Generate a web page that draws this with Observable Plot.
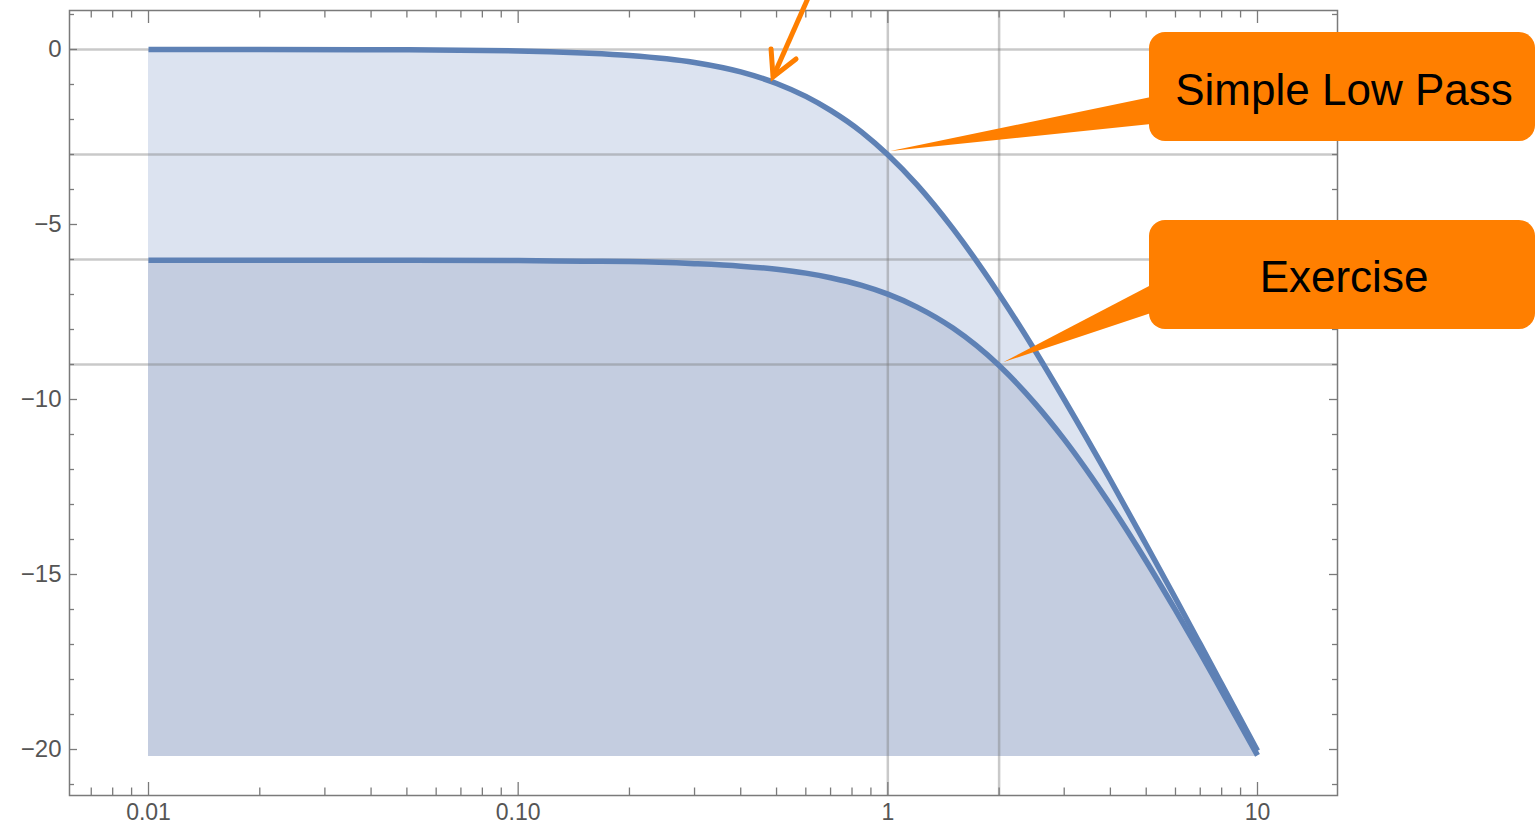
<!DOCTYPE html>
<html><head><meta charset="utf-8">
<script src="https://cdn.jsdelivr.net/npm/d3@7"></script>
<script src="https://cdn.jsdelivr.net/npm/@observablehq/plot@0.6"></script>
<style>body{margin:0;background:#fff;} svg{display:block}</style>
</head><body><div id="chart"></div>
<script>
// Frequency points (log axis) and magnitudes in dB
const freq = [0.01, 0.02, 0.05, 0.1, 0.15, 0.2, 0.3, 0.4, 0.5, 0.6, 0.7, 0.85, 1, 1.2, 1.5, 2, 2.5, 3, 4, 5, 6, 7, 8, 10];
const simpleLowPass = [0.00, 0.00, -0.01, -0.04, -0.10, -0.17, -0.37, -0.64, -0.97, -1.34, -1.74, -2.36, -3.01, -3.87, -5.12, -6.99, -8.60, -10.00, -12.30, -14.15, -15.68, -16.99, -18.13, -20.04];
const exercise = [-6.02, -6.02, -6.02, -6.03, -6.05, -6.06, -6.12, -6.19, -6.28, -6.39, -6.52, -6.74, -6.99, -7.36, -7.96, -9.03, -10.11, -11.14, -13.01, -14.62, -16.02, -17.24, -18.33, -20.17];
const fillBottom = -20.2;
const xTickValues = [0.01, 0.1, 1, 10];
const xTickLabels = ["0.01", "0.10", "1", "10"];
const yTickValues = [0, -5, -10, -15, -20];
const hGrid = [0, -3, -6, -9];
const vGrid = [1, 2];
const labelSimple = "Simple Low Pass";
const labelExercise = "Exercise";

const rows = freq.map((f, i) => ({f, slp: simpleLowPass[i], ex: exercise[i]}));

const W = 1535, H = 826, mL = 69, mR = 198, mT = 10, mB = 31;
const innerW = W - mL - mR, innerH = H - mT - mB;
const xDomain = [0.006113, 16.46];
const yDomain = [-21.314, 1.114];

// tick positions for the frame
const xMinor = [], xMajor = [];
for (let e = -3; e <= 1; e++) {
  for (let m = 1; m <= 9; m++) {
    const v = +(m * Math.pow(10, e)).toPrecision(6);
    if (v >= xDomain[0] && v <= xDomain[1]) (m === 1 ? xMajor : xMinor).push(v);
  }
}
const yMinor = [], yMajor = [];
for (let v = -21; v <= 1; v++) (v % 5 === 0 ? yMajor : yMinor).push(v);

const blue = "#5E81B5", frameCol = "#7a7a7a", tickFont = "Liberation Sans, Arial, sans-serif";

const chart = Plot.plot({
  width: W, height: H,
  marginLeft: mL, marginRight: mR, marginTop: mT, marginBottom: mB,
  style: {background: "#fff", fontFamily: tickFont, overflow: "visible"},
  x: {type: "log", domain: xDomain},
  y: {domain: yDomain},
  marks: [
    Plot.areaY(rows, {x: "f", y1: () => fillBottom, y2: "slp", fill: "#dce3f0", curve: "monotone-x"}),
    Plot.areaY(rows, {x: "f", y1: () => fillBottom, y2: "ex", fill: "#c4cde0", curve: "monotone-x"}),
    Plot.ruleY(hGrid, {y: d => d, stroke: "#777", strokeOpacity: 0.4, strokeWidth: 2.5}),
    Plot.ruleX(vGrid, {x: d => d, stroke: "#777", strokeOpacity: 0.4, strokeWidth: 2.5}),
    Plot.line(rows, {x: "f", y: "slp", stroke: blue, strokeWidth: 5.5, curve: "monotone-x", strokeLinecap: "butt"}),
    Plot.line(rows, {x: "f", y: "ex", stroke: blue, strokeWidth: 5.5, curve: "monotone-x", strokeLinecap: "butt"}),
    Plot.frame({stroke: frameCol, strokeWidth: 1.5}),
    // inward ticks, bottom & top
    Plot.tickX(xMinor, {x: d => d, insetTop: innerH - 7.5, stroke: frameCol, strokeWidth: 1.3}),
    Plot.tickX(xMajor, {x: d => d, insetTop: innerH - 13, stroke: frameCol, strokeWidth: 1.3}),
    Plot.tickX(xMinor, {x: d => d, insetBottom: innerH - 7.5, stroke: frameCol, strokeWidth: 1.3}),
    Plot.tickX(xMajor, {x: d => d, insetBottom: innerH - 13, stroke: frameCol, strokeWidth: 1.3}),
    // inward ticks, left & right
    Plot.tickY(yMinor, {y: d => d, insetRight: innerW - 5, stroke: frameCol, strokeWidth: 1.3}),
    Plot.tickY(yMajor, {y: d => d, insetRight: innerW - 8, stroke: frameCol, strokeWidth: 1.3}),
    Plot.tickY(yMinor, {y: d => d, insetLeft: innerW - 5, stroke: frameCol, strokeWidth: 1.3}),
    Plot.tickY(yMajor, {y: d => d, insetLeft: innerW - 8, stroke: frameCol, strokeWidth: 1.3}),
    Plot.axisX(xTickValues, {anchor: "bottom", tickSize: 0, tickPadding: 8, fontSize: 23, fill: "#555",
      tickFormat: d => xTickLabels[xTickValues.indexOf(d)], label: null}),
    Plot.axisY(yTickValues, {anchor: "left", tickSize: 0, tickPadding: 8, fontSize: 24, fill: "#555", label: null})
  ]
});
document.getElementById("chart").appendChild(chart);

// annotations
const sx = chart.scale("x"), sy = chart.scale("y");
const svg = d3.select(chart);
const orange = "#FF7F00";
const g = svg.append("g").attr("font-family", "Liberation Sans, Arial, sans-serif");

function callout(boxY, anchorX, anchorY, dx, dy, baseTop, baseBot, label, textY) {
  const bx = 1149, bw = 386, bh = 109;
  const tx = sx.apply(anchorX) + dx, ty = sy.apply(anchorY) + dy;
  g.append("path").attr("d", `M${bx + 2},${baseTop}L${tx},${ty}L${bx + 2},${baseBot}Z`).attr("fill", orange);
  g.append("rect").attr("x", bx).attr("y", boxY).attr("width", bw).attr("height", bh)
    .attr("rx", 16).attr("ry", 16).attr("fill", orange);
  g.append("text").attr("x", bx + bw / 2 + 2).attr("y", textY).attr("text-anchor", "middle")
    .attr("font-size", 44).attr("fill", "#000").text(label);
}
callout(32, 1, -3, 3, -3, 97, 124, labelSimple, 105);
callout(220, 2, -9, 5, -2, 285, 313, labelExercise, 292);

// arrow pointing at the upper curve
const ax = sx.apply(0.5) - 3, ay = sy.apply(-0.97) - 6;
g.append("path").attr("d", `M${ax + 35},${-2}L${ax},${ay}`)
  .attr("stroke", orange).attr("stroke-width", 5).attr("fill", "none");
g.append("path").attr("d", `M${ax - 2},${ay - 28}L${ax},${ay}L${ax + 23},${ay - 18}`)
  .attr("stroke", orange).attr("stroke-width", 5).attr("fill", "none")
  .attr("stroke-linecap", "round").attr("stroke-linejoin", "miter");
</script>
</body></html>
